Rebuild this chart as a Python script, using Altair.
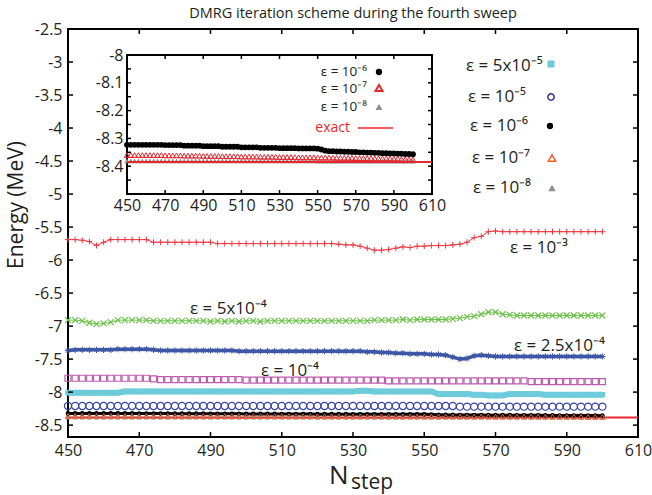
import altair as alt
import pandas as pd

# ---------------- data ----------------
steps = list(range(450, 601, 2))  # N_step sampled every 2 sweeps

e3 = [-5.69, -5.69, -5.70, -5.72, -5.78, -5.73, -5.69, -5.69, -5.69, -5.69,
      -5.69, -5.69, -5.73, -5.73, -5.73, -5.73, -5.73, -5.73, -5.73, -5.73,
      -5.73, -5.75, -5.75, -5.75, -5.75, -5.75, -5.75, -5.75, -5.75, -5.75,
      -5.75, -5.75, -5.75, -5.75, -5.75, -5.75, -5.75, -5.75, -5.76, -5.77,
      -5.77, -5.79, -5.82, -5.85, -5.85, -5.84, -5.82, -5.80, -5.81, -5.79,
      -5.79, -5.78, -5.78, -5.78, -5.77, -5.76, -5.73, -5.66, -5.64, -5.57,
      -5.56, -5.57, -5.57, -5.57, -5.57, -5.57, -5.57, -5.57, -5.57, -5.57,
      -5.57, -5.57, -5.57, -5.57, -5.57, -5.57]

e54 = [-6.91, -6.91, -6.92, -6.95, -6.97, -6.96, -6.94, -6.91, -6.91, -6.91,
       -6.91, -6.91, -6.92, -6.92, -6.92, -6.92, -6.92, -6.92, -6.92, -6.92,
       -6.93, -6.92, -6.93, -6.92, -6.93, -6.92, -6.92, -6.93, -6.92, -6.92,
       -6.92, -6.92, -6.92, -6.92, -6.92, -6.92, -6.92, -6.92, -6.92, -6.92,
       -6.92, -6.92, -6.92, -6.91, -6.91, -6.91, -6.91, -6.90, -6.91, -6.90,
       -6.90, -6.90, -6.90, -6.90, -6.89, -6.88, -6.86, -6.85, -6.82, -6.79,
       -6.79, -6.82, -6.83, -6.84, -6.84, -6.84, -6.84, -6.84, -6.84, -6.84,
       -6.84, -6.84, -6.84, -6.84, -6.84, -6.84]

e254 = [-7.37, -7.36, -7.36, -7.36, -7.36, -7.36, -7.36, -7.35, -7.35, -7.35,
        -7.35, -7.35, -7.36, -7.37, -7.37, -7.37, -7.37, -7.37, -7.37, -7.37,
        -7.37, -7.37, -7.37, -7.37, -7.38, -7.38, -7.38, -7.38, -7.38, -7.38,
        -7.38, -7.38, -7.38, -7.38, -7.38, -7.38, -7.38, -7.38, -7.38, -7.38,
        -7.38, -7.38, -7.39, -7.39, -7.40, -7.40, -7.41, -7.41, -7.42, -7.42,
        -7.42, -7.43, -7.43, -7.44, -7.47, -7.50, -7.49, -7.45, -7.44, -7.45,
        -7.46, -7.46, -7.46, -7.46, -7.46, -7.46, -7.46, -7.46, -7.46, -7.46,
        -7.46, -7.46, -7.46, -7.46, -7.46, -7.46]

e4 = [-7.79, -7.79, -7.79, -7.79, -7.79, -7.79, -7.79, -7.79, -7.79, -7.79,
      -7.79, -7.79, -7.80, -7.81, -7.81, -7.81, -7.81, -7.81, -7.81, -7.81,
      -7.81, -7.81, -7.81, -7.81, -7.81, -7.82, -7.82, -7.82, -7.82, -7.82,
      -7.82, -7.82, -7.82, -7.82, -7.82, -7.82, -7.82, -7.82, -7.82, -7.82,
      -7.82, -7.82, -7.82, -7.82, -7.82, -7.83, -7.83, -7.83, -7.83, -7.83,
      -7.83, -7.83, -7.83, -7.83, -7.83, -7.83, -7.83, -7.83, -7.83, -7.83,
      -7.83, -7.83, -7.83, -7.83, -7.83, -7.84, -7.84, -7.84, -7.84, -7.84,
      -7.84, -7.84, -7.84, -7.84, -7.84, -7.84]

e55 = [-8.01, -8.01, -8.01, -8.01, -8.01, -8.01, -8.01, -8.01, -7.99, -7.99,
       -7.99, -7.99, -7.99, -7.99, -7.99, -7.99, -7.99, -7.99, -7.99, -7.99,
       -7.99, -7.99, -7.99, -7.99, -7.99, -7.99, -7.99, -7.99, -7.99, -7.99,
       -7.99, -7.99, -7.99, -7.99, -7.99, -7.99, -7.99, -7.99, -7.99, -7.99,
       -7.99, -7.98, -7.98, -7.99, -7.99, -7.99, -7.99, -7.99, -7.99, -7.99,
       -7.99, -7.99, -8.03, -8.03, -8.03, -8.03, -8.03, -8.04, -8.04, -8.05,
       -8.05, -8.05, -8.03, -8.03, -8.03, -8.03, -8.03, -8.04, -8.04, -8.04,
       -8.04, -8.04, -8.04, -8.04, -8.04, -8.04]

e5 = [-8.21, -8.21, -8.21, -8.21, -8.21, -8.21, -8.21, -8.21, -8.21, -8.21,
      -8.21, -8.21, -8.21, -8.21, -8.21, -8.21, -8.21, -8.21, -8.21, -8.21,
      -8.21, -8.21, -8.21, -8.21, -8.21, -8.21, -8.21, -8.21, -8.21, -8.21,
      -8.21, -8.21, -8.21, -8.21, -8.21, -8.21, -8.21, -8.21, -8.21, -8.21,
      -8.21, -8.21, -8.21, -8.21, -8.21, -8.21, -8.21, -8.21, -8.21, -8.21,
      -8.21, -8.21, -8.21, -8.21, -8.21, -8.22, -8.22, -8.22, -8.22, -8.22,
      -8.22, -8.22, -8.22, -8.22, -8.22, -8.22, -8.22, -8.22, -8.22, -8.22,
      -8.22, -8.22, -8.22, -8.22, -8.22, -8.22]

e6 = [-8.323, -8.323, -8.323, -8.323, -8.323, -8.323, -8.323, -8.323, -8.323, -8.323,
      -8.324, -8.324, -8.324, -8.324, -8.324, -8.326, -8.326, -8.326, -8.326, -8.326,
      -8.328, -8.328, -8.328, -8.328, -8.328, -8.330, -8.330, -8.330, -8.330, -8.330,
      -8.332, -8.332, -8.332, -8.332, -8.332, -8.334, -8.334, -8.334, -8.334, -8.334,
      -8.335, -8.335, -8.335, -8.335, -8.335, -8.336, -8.336, -8.336, -8.336, -8.336,
      -8.337, -8.340, -8.344, -8.346, -8.346, -8.347, -8.347, -8.348, -8.348, -8.349,
      -8.349, -8.350, -8.350, -8.351, -8.351, -8.352, -8.352, -8.353, -8.353, -8.354,
      -8.354, -8.355, -8.355, -8.356, -8.356, -8.357]

e7 = [-8.360, -8.360, -8.360, -8.360, -8.360, -8.360, -8.360, -8.360, -8.360, -8.360,
      -8.361, -8.361, -8.361, -8.361, -8.361, -8.362, -8.362, -8.362, -8.362, -8.362,
      -8.363, -8.363, -8.363, -8.363, -8.363, -8.364, -8.364, -8.364, -8.364, -8.364,
      -8.365, -8.365, -8.365, -8.365, -8.365, -8.366, -8.366, -8.366, -8.366, -8.366,
      -8.367, -8.367, -8.367, -8.367, -8.367, -8.368, -8.368, -8.368, -8.368, -8.368,
      -8.369, -8.369, -8.369, -8.369, -8.369, -8.370, -8.370, -8.370, -8.370, -8.370,
      -8.371, -8.371, -8.371, -8.371, -8.371, -8.372, -8.372, -8.372, -8.372, -8.372,
      -8.373, -8.373, -8.374, -8.375, -8.375, -8.376]

e8 = [-8.381, -8.381, -8.381, -8.381, -8.381, -8.381, -8.381, -8.381, -8.381, -8.381,
      -8.381, -8.381, -8.381, -8.381, -8.381, -8.381, -8.381, -8.381, -8.381, -8.381,
      -8.381, -8.381, -8.381, -8.381, -8.381, -8.381, -8.381, -8.381, -8.381, -8.381,
      -8.381, -8.381, -8.381, -8.381, -8.381, -8.381, -8.381, -8.381, -8.381, -8.381,
      -8.381, -8.381, -8.381, -8.381, -8.381, -8.381, -8.381, -8.381, -8.381, -8.381,
      -8.382, -8.382, -8.382, -8.382, -8.382, -8.382, -8.382, -8.382, -8.382, -8.382,
      -8.382, -8.382, -8.382, -8.382, -8.382, -8.382, -8.382, -8.382, -8.382, -8.382,
      -8.382, -8.382, -8.382, -8.382, -8.382, -8.382]

exact_n = [450, 610]
exact_e = [-8.385, -8.385]

# axes / ticks
main_x_labels = [450, 470, 490, 510, 530, 550, 570, 590, 610]
main_x_ticks = [470, 490, 510, 530, 550, 570, 590]
main_y_labels = [-2.5, -3.0, -3.5, -4.0, -4.5, -5.0, -5.5, -6.0, -6.5, -7.0, -7.5, -8.0, -8.5]
main_y_ticks = [-3.0, -3.5, -4.0, -4.5, -5.0, -5.5, -6.0, -6.5, -7.0, -7.5, -8.0, -8.5]
inset_y_labels = [-8.0, -8.1, -8.2, -8.3, -8.4]
inset_y_ticks = [-8.05, -8.1, -8.15, -8.2, -8.25, -8.3, -8.35, -8.4, -8.45]

# ---------------- layout / style ----------------
W, H = 570, 408
IX0, IX1 = 59, 364      # inset plot area (pixels inside main plot)
IY0, IY1 = 26, 165
FONT = "Open Sans"
TXT = "#231f20"
RED, GREEN, BLUE = "#ec3a44", "#6cc24a", "#3d56a6"
MAGENTA, CYAN, NAVY = "#bb5cab", "#6dcbdb", "#36449e"
ORANGE, GRAY, EXACT = "#f15a29", "#8e8e8e", "#e8262d"
PLUS = "M-1,0L1,0M0,-1L0,1"
XSH = "M-1,-1L1,1M-1,1L1,-1"
STAR = "M-1,0L1,0M0,-1L0,1M-0.7,-0.7L0.7,0.7M-0.7,0.7L0.7,-0.7"


def df(vals):
    return pd.DataFrame({"n": steps, "E": vals})


xs = alt.Scale(domain=[450, 610], nice=False, zero=False)
ys = alt.Scale(domain=[-8.68, -2.5], nice=False, zero=False)
X = alt.X("n:Q", scale=xs, axis=alt.Axis(values=main_x_labels, orient="bottom", labelPadding=5,
                                         labelFlush=False, labelOverlap=False), title=None)
Y = alt.Y("E:Q", scale=ys, axis=alt.Axis(values=main_y_labels, orient="left", labelPadding=6,
                                         labelFlush=False, labelOverlap=False,
                                         labelExpr="toString(datum.value)"), title=None)

ixs = alt.Scale(domain=[450, 610], range=[IX0, IX1], nice=False, zero=False)
iys = alt.Scale(domain=[-8.5, -8.0], range=[IY1, IY0], nice=False, zero=False)
IXe = alt.X("n:Q", scale=ixs, axis=alt.Axis(values=main_x_labels, orient="bottom", offset=-(H - IY1),
                                            labelPadding=3, labelFlush=False, labelOverlap=False), title=None)
IYe = alt.Y("E:Q", scale=iys, axis=alt.Axis(values=inset_y_labels, orient="left", offset=-IX0,
                                            labelPadding=4, labelFlush=False, labelOverlap=False,
                                            labelExpr="toString(datum.value)"), title=None)


def pts(vals, shape, color, size, filled, sw=1.0, x=X, y=Y):
    return alt.Chart(df(vals)).mark_point(shape=shape, size=size, filled=filled, color=color,
                                          strokeWidth=sw, opacity=1).encode(x=x, y=y)


def line(vals, color, sw, x=X, y=Y):
    return alt.Chart(df(vals)).mark_line(color=color, strokeWidth=sw).encode(x=x, y=y)


def one():
    return pd.DataFrame({"k": [0]})


def txt(text, x, y, size, color=TXT, align="left", baseline="middle", angle=0):
    return alt.Chart(pd.DataFrame({"t": [text]})).mark_text(
        align=align, baseline=baseline, fontSize=size, font=FONT, color=color, angle=angle
    ).encode(x=alt.value(x), y=alt.value(y), text="t:N")


def sym(shape, color, size, filled, x, y, sw=1.5):
    return alt.Chart(one()).mark_point(shape=shape, size=size, filled=filled, color=color,
                                       strokeWidth=sw, opacity=1).encode(x=alt.value(x), y=alt.value(y))


exact_df = pd.DataFrame({"n": exact_n, "E": exact_e})

# ---------------- main panel ----------------
main_layers = [
    alt.Chart(exact_df).mark_line(color=EXACT, strokeWidth=2).encode(x=X, y=Y),
    pts(e8, "triangle-up", GRAY, 28, True),
    line(e6, "black", 3),
    pts(e6, "circle", "black", 22, True),
    pts(e7, "triangle-up", ORANGE, 30, False, 1.0),
    pts(e5, "circle", NAVY, 52, False, 1.2),
    line(e55, CYAN, 6),
    pts(e55, "square", CYAN, 30, True),
    pts(e4, "square", MAGENTA, 36, False, 1.2),
    line(e254, BLUE, 3.5),
    pts(e254, STAR, BLUE, 40, False, 1.0),
    line(e54, GREEN, 1.0),
    pts(e54, XSH, GREEN, 36, False, 1.2),
    line(e3, RED, 1.0),
    pts(e3, PLUS, RED, 36, False, 1.0),
]

# inward ticks of the main frame
tx = pd.DataFrame({"n": main_x_ticks})
ty = pd.DataFrame({"E": main_y_ticks})
main_layers += [
    alt.Chart(tx).mark_rule(color="black", strokeWidth=1.5).encode(x=X, y=alt.value(H), y2=alt.value(H - 5)),
    alt.Chart(tx).mark_rule(color="black", strokeWidth=1.5).encode(x=X, y=alt.value(0), y2=alt.value(5)),
    alt.Chart(ty).mark_rule(color="black", strokeWidth=1.5).encode(y=Y, x=alt.value(0), x2=alt.value(5)),
    alt.Chart(ty).mark_rule(color="black", strokeWidth=1.5).encode(y=Y, x=alt.value(W), x2=alt.value(W - 5)),
]

# curve annotations
main_layers += [
    txt("ε = 10⁻³", 442, 219, 17),
    txt("ε = 5x10⁻⁴", 122, 280, 17),
    txt("ε = 2.5x10⁻⁴", 446, 317, 17),
    txt("ε = 10⁻⁴", 193, 342, 17),
]

# right-hand legend
main_layers += [
    txt("ε = 5x10⁻⁵", 398, 37, 17), sym("square", CYAN, 50, True, 483, 35),
    txt("ε = 10⁻⁵", 400, 68, 17), sym("circle", "#2e3192", 40, False, 483, 68),
    txt("ε = 10⁻⁶", 402, 97, 17), sym("circle", "black", 40, True, 482, 97),
    txt("ε = 10⁻⁷", 404, 129, 17), sym("triangle-up", ORANGE, 55, False, 484, 129),
    txt("ε = 10⁻⁸", 405, 159, 17), sym("triangle-up", GRAY, 55, True, 484, 159),
]

# titles
main_layers += [
    txt("DMRG iteration scheme during the fourth sweep", W / 2, -15, 14.5, align="center"),
    txt("Energy  (MeV)", -51, 176, 21, align="center", angle=270),
    txt("N", 261, 455, 26, baseline="alphabetic"),
    txt("step", 283, 460, 21, baseline="alphabetic"),
]

main = alt.layer(*main_layers)

# ---------------- inset panel ----------------
itx = pd.DataFrame({"n": main_x_ticks})
ity = pd.DataFrame({"E": inset_y_ticks})
frame = alt.Chart(one()).mark_rect(fill="white", stroke="black", strokeWidth=2).encode(
    x=alt.value(IX0), x2=alt.value(IX1), y=alt.value(IY0), y2=alt.value(IY1))

inset_layers = [
    frame,
    pts(e8, "triangle-up", GRAY, 30, True, x=IXe, y=IYe),
    pts(e7, "triangle-up", EXACT, 30, False, 1.0, x=IXe, y=IYe),
    pts(e6, "circle", "black", 34, True, x=IXe, y=IYe),
    alt.Chart(exact_df).mark_line(color=EXACT, strokeWidth=2).encode(x=IXe, y=IYe),
    alt.Chart(itx).mark_rule(color="black", strokeWidth=1.5).encode(x=IXe, y=alt.value(IY1), y2=alt.value(IY1 - 4)),
    alt.Chart(itx).mark_rule(color="black", strokeWidth=1.5).encode(x=IXe, y=alt.value(IY0), y2=alt.value(IY0 + 4)),
    alt.Chart(ity).mark_rule(color="black", strokeWidth=1.5).encode(y=IYe, x=alt.value(IX0), x2=alt.value(IX0 + 4)),
    alt.Chart(ity).mark_rule(color="black", strokeWidth=1.5).encode(y=IYe, x=alt.value(IX1), x2=alt.value(IX1 - 4)),
    # inset legend
    txt("ε = 10⁻⁶", 299, 43, 13.5, align="right"), sym("circle", "black", 40, True, 311, 43),
    txt("ε = 10⁻⁷", 299, 60, 13.5, align="right"), sym("triangle-up", EXACT, 50, False, 311, 59, 2),
    txt("ε = 10⁻⁸", 299, 78, 13.5, align="right"), sym("triangle-up", GRAY, 50, True, 311, 78),
    txt("exact", 282, 99, 14, color=EXACT, align="right"),
    alt.Chart(one()).mark_rule(color=EXACT, strokeWidth=1.5).encode(
        x=alt.value(290), x2=alt.value(325), y=alt.value(99)),
]
inset = alt.layer(*inset_layers)

chart = alt.layer(main, inset).resolve_scale(x="independent", y="independent").properties(
    width=W, height=H,
    autosize=alt.AutoSizeParams(type="none"),
    padding={"left": 68, "top": 29, "right": 14, "bottom": 58},
).configure_view(stroke="black", strokeWidth=2).configure_axis(
    labelFont=FONT, labelFontSize=16, labelColor=TXT, ticks=False, domain=False, grid=False
)

chart.save("out.html", embed_options={"renderer": "svg", "actions": False})
